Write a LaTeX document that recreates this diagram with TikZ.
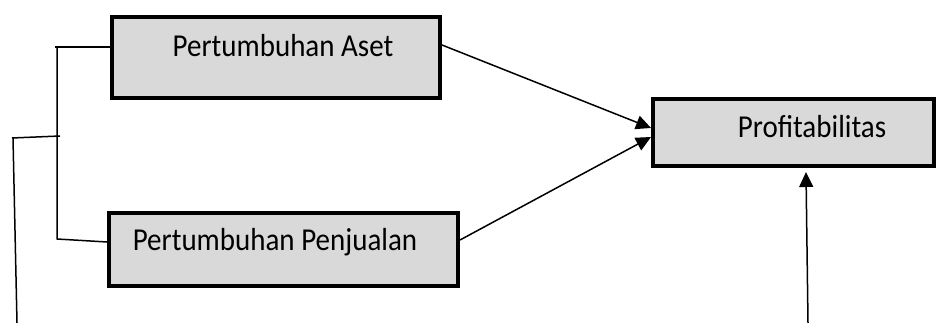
\documentclass[tikz,border=0pt]{standalone}
\usepackage{fontspec}
\usepackage{graphicx}
\setmainfont{Carlito}
\usetikzlibrary{arrows.meta}
\definecolor{boxgray}{HTML}{D9D9D9}
\newcommand{\tallbox}[1]{\scalebox{1}[1.1]{#1}}
\tikzset{
  box/.style={draw=black, line width=4pt, fill=boxgray, inner sep=0pt},
  lbl/.style={inner sep=0pt, font=\fontsize{29}{34}\selectfont},
  conn/.style={line width=1.5pt, black},
  arr/.style={conn, -{Triangle[length=15pt,width=14pt]}}
}
\begin{document}
\begin{tikzpicture}[x=1pt,y=1pt]
\useasboundingbox (0,0) rectangle (936,323);
\node[box, minimum width=328pt, minimum height=81pt] (box1) at (276,265.5) {};
\node[box, minimum width=349pt, minimum height=73pt] (box2) at (283.5,73.5) {};
\node[box, minimum width=281pt, minimum height=67pt] (box3) at (793.5,190.5) {};
\node[lbl] (t1) at (283,277) {\tallbox{Pertumbuhan Aset}};
\node[lbl] (t2) at (275,81) {\tallbox{Pertumbuhan Penjualan}};
\node[lbl] (t3) at (812,196) {\tallbox{Profitabilitas}};
% bracket
\coordinate (k1) at (55,276);
\coordinate (k2) at (57,276);
\coordinate (k3) at (57,84);
\coordinate (k4) at (107,81);
\coordinate (m1) at (12,185);
\coordinate (m2) at (60,187);
\coordinate (m3) at (13,185);
\coordinate (m4) at (17,0);
\draw[conn] (k1) -- (box1.west |- k1);
\draw[conn] (k2) -- (k3) -- (k4);
\draw[conn] (m1) -- (m2);
\draw[conn] (m3) -- (m4);
% arrows
\coordinate (s1) at (442,278);
\coordinate (s2) at (460,83);
\coordinate (e1) at ([yshift=4.5pt]box3.west);
\coordinate (e2) at ([yshift=-4.5pt]box3.west);
\draw[arr] (s1) -- (e1);
\draw[arr] (s2) -- (e2);
\coordinate (v1) at (808,0);
\coordinate (v2) at (806,151);
\draw[arr] (v1) -- (v2);
\end{tikzpicture}
\end{document}
